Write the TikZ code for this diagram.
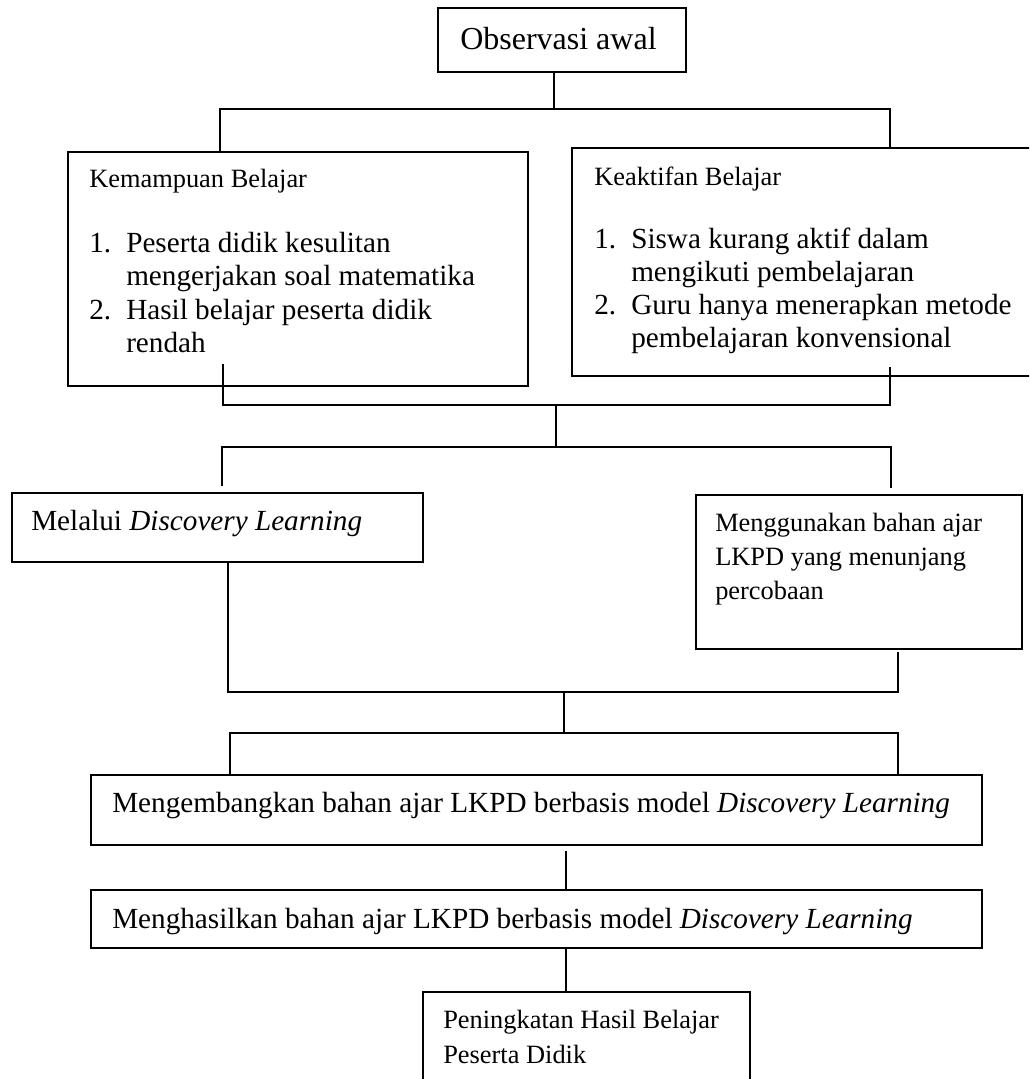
\documentclass[tikz,border=0pt]{standalone}
\usepackage{fontspec}
\setmainfont{Liberation Serif}
\begin{document}
\begin{tikzpicture}[x=0.75pt, y=-0.75pt,
  box/.style 2 args={draw, line width=1.3pt, minimum width=#1*0.75pt,
    minimum height=#2*0.75pt, inner sep=0pt},
  link/.style={line width=1.1pt},
  txt/.style={anchor=base west, inner sep=0pt, font=\fontsize{21.9}{26}\selectfont},
  head/.style={anchor=base west, inner sep=0pt, font=\fontsize{19.8}{24}\selectfont},
  ttl/.style={anchor=base west, inner sep=0pt, font=\fontsize{24}{28}\selectfont}]
\useasboundingbox (0,0) rectangle (1029,1079);
\clip (0,0) rectangle (1029,1079);

% boxes
\node[box={248}{64}]  (obs) at (562,40) {};
\node[box={460}{234}] (kem) at (298,269) {};
\node[box={488}{228}] (kea) at (816,262) {};
\node[box={411}{69}]  (mel) at (217.5,527.5) {};
\node[box={326}{154}] (mgg) at (859,572) {};
\node[box={891}{70}]  (mgb) at (536.5,810) {};
\node[box={891}{58}]  (mgh) at (536.5,919) {};
\node[box={327}{118}] (pen) at (586.5,1051) {};

% texts
\node[ttl] (obst) at (460,49) {Observasi awal};

\node[head] (kemh) at (89,187) {Kemampuan Belajar};
\node[txt] (kn1) at (89,252) {1.};
\node[txt] (kt1) at (126,252) {Peserta didik kesulitan};
\node[txt] (kt2) at (126,285.5) {mengerjakan soal matematika};
\node[txt] (kn2) at (89,319) {2.};
\node[txt] (kt3) at (126,319) {Hasil belajar peserta didik};
\node[txt] (kt4) at (126,352.5) {rendah};

\node[head] (keah) at (594,185) {Keaktifan Belajar};
\node[txt] (an1) at (594,248) {1.};
\node[txt] (at1) at (631,248) {Siswa kurang aktif dalam};
\node[txt] (at2) at (631,281) {mengikuti pembelajaran};
\node[txt] (an2) at (594,314) {2.};
\node[txt] (at3) at (631,314) {Guru hanya menerapkan metode};
\node[txt] (at4) at (631,347) {pembelajaran konvensional};

\node[txt] (melt) at (31,530) {Melalui \textit{Discovery Learning}};

\node[head] (mgt1) at (715,531) {Menggunakan bahan ajar};
\node[head] (mgt2) at (715,565) {LKPD yang menunjang};
\node[head] (mgt3) at (715,599) {percobaan};

\node[txt] (mgbt) at (112,812) {Mengembangkan bahan ajar LKPD berbasis model \textit{Discovery Learning}};
\node[txt] (mght) at (112,928) {Menghasilkan bahan ajar LKPD berbasis model \textit{Discovery Learning}};

\node[head] (pent1) at (443,1028) {Peningkatan Hasil Belajar};
\node[head] (pent2) at (443,1063) {Peserta Didik};

% junction points
\coordinate (j1)  at (554,109);
\coordinate (j1l) at (220,109);
\coordinate (j1r) at (890,109);

\coordinate (k2s) at (223,364);
\coordinate (a2s) at (890,367);
\coordinate (j2l) at (223,405);
\coordinate (j2r) at (890,405);
\coordinate (j2c) at (556,405);

\coordinate (j3c) at (556,447);
\coordinate (j3l) at (222,447);
\coordinate (j3r) at (891,447);
\coordinate (d3l) at (222,486);
\coordinate (d3r) at (891,488);

\coordinate (g4s) at (898,652);
\coordinate (j4l) at (228,692);
\coordinate (j4r) at (898,692);
\coordinate (j4c) at (564,692);

\coordinate (j5c) at (564,733);
\coordinate (j5l) at (230,733);
\coordinate (j5r) at (898,733);

\coordinate (j6) at (566,851);

% connectors
\draw[link] (obs.south -| j1) -- (j1);
\draw[link] (j1l |- kem.north) -- (j1l) -- (j1r) -- (j1r |- kea.north);

\draw[link] (k2s) -- (j2l) -- (j2r) -- (a2s);
\draw[link] (j2c) -- (j3c);
\draw[link] (d3l) -- (j3l) -- (j3r) -- (d3r);

\draw[link] (mel.south -| j4l) -- (j4l) -- (j4r) -- (g4s);
\draw[link] (j4c) -- (j5c);
\draw[link] (j5l |- mgb.north) -- (j5l) -- (j5r) -- (j5r |- mgb.north);

\draw[link] (j6) -- (j6 |- mgh.north);
\draw[link] (mgh.south -| j6) -- (pen.north -| j6);
\end{tikzpicture}
\end{document}
